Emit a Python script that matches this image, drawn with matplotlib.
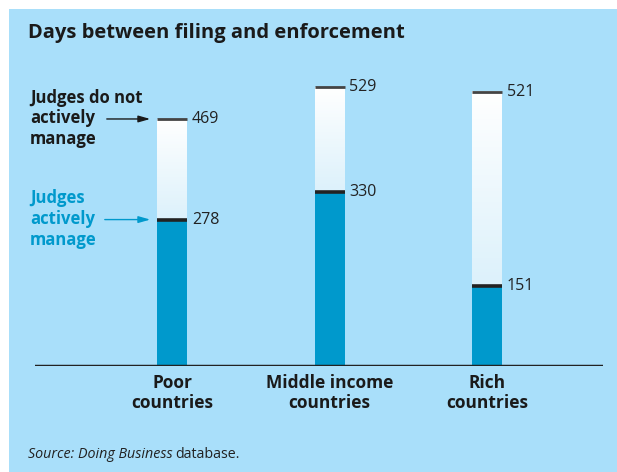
import matplotlib
matplotlib.use("Agg")
import matplotlib.pyplot as plt
import numpy as np
from matplotlib.patches import Rectangle
from matplotlib.colors import LinearSegmentedColormap

categories = ["Poor\ncountries", "Middle income\ncountries", "Rich\ncountries"]
active = [278, 330, 151]
not_active = [469, 529, 521]

BG = "#a9dffa"
BLUE = "#0099cc"
DARK = "#222222"

plt.rcParams['font.family'] = ['Open Sans', 'DejaVu Sans']

W, H = 617, 472
fig = plt.figure(figsize=(W / 100, H / 100), dpi=100)
fig.patch.set_facecolor("white")
fig.patches.append(Rectangle((9 / W, 0), 1 - 9 / W, 1 - 9 / H, transform=fig.transFigure,
                             facecolor=BG, edgecolor="none", zorder=-10))

# axes area in pixels
x0, x1 = 35, 603
ybase, ytop = 366, 9
ax = fig.add_axes([x0 / W, (H - ybase) / H, (x1 - x0) / W, (ybase - ytop) / H])
ax.set_zorder(5)
ax.set_facecolor("none")
pxu = 157.5
c0 = 172
scale = 0.5267
for s in ax.spines.values():
    s.set_visible(False)

x = np.arange(len(categories))
bw = 30 / pxu

cmap = LinearSegmentedColormap.from_list("g", ["#ffffff", "#dcf1fb"])
grad = np.linspace(0, 1, 256).reshape(-1, 1)
for xi, a, n in zip(x, active, not_active):
    ax.bar(xi, a, width=bw, color=BLUE, edgecolor="none", zorder=2)
    ax.imshow(grad, cmap=cmap, aspect="auto", origin="upper",
              extent=(xi - bw / 2, xi + bw / 2, a, n), zorder=2)
    ax.plot([xi - bw / 2, xi + bw / 2], [n, n], color="#444444", lw=2, zorder=3,
            solid_capstyle="butt")
    ax.plot([xi - bw / 2, xi + bw / 2], [a, a], color=DARK, lw=2.6, zorder=3,
            solid_capstyle="butt")
    ax.text(xi + bw / 2 + 5 / pxu, n, str(n), fontsize=11.5, color="#222222",
            va="center", ha="left")
    ax.text(xi + bw / 2 + 5 / pxu, a, str(a), fontsize=11.5, color="#222222",
            va="center", ha="left")

ax.set_aspect("auto")
ax.set_xlim((x0 - c0) / pxu, (x1 - c0) / pxu)
ax.set_ylim(0, (ybase - ytop) / scale)

ax.axhline(0, color=DARK, lw=2.5, zorder=4)
ax.set_xticks(x, categories, fontsize=12.5, fontweight="bold", color="#1a1a1a",
              linespacing=1.1)
ax.tick_params(axis="x", length=0, pad=6)
ax.set_yticks([])

# legend annotations
tx = (30 - c0) / pxu
ax.text(tx, 469 + 1, "Judges do not\nactively\nmanage", fontsize=12, fontweight="bold",
        color="#1a1a1a", va="center", ha="left", linespacing=1.2, clip_on=False)
ax.text(tx, 278 + 1, "Judges\nactively\nmanage", fontsize=12, fontweight="bold",
        color=BLUE, va="center", ha="left", linespacing=1.2, clip_on=False)
ax.annotate("", xy=((153 - c0) / pxu, 469), xytext=((104 - c0) / pxu, 469),
            arrowprops=dict(arrowstyle="-|>,head_length=0.7,head_width=0.2",
                            color="#1a1a1a", lw=1), annotation_clip=False)
ax.annotate("", xy=((153 - c0) / pxu, 278), xytext=((102 - c0) / pxu, 278),
            arrowprops=dict(arrowstyle="-|>,head_length=0.7,head_width=0.2",
                            color=BLUE, lw=1), annotation_clip=False)

fig.text(28 / W, 1 - 33 / H, "Days between filing and enforcement", fontsize=14.5,
         fontweight="bold", color="#1a1a1a", va="center", ha="left")

t1 = fig.text(28 / W, 1 - 455 / H, "Source: Doing Business", fontsize=10.3,
              style="italic", color="#222222", va="center", ha="left")
fig.canvas.draw()
bb = t1.get_window_extent()
fig.text(bb.x1 / W + 3 / W, 1 - 455 / H, "database.", fontsize=10.3,
         color="#222222", va="center", ha="left")

fig.savefig("out.png", dpi=100)
